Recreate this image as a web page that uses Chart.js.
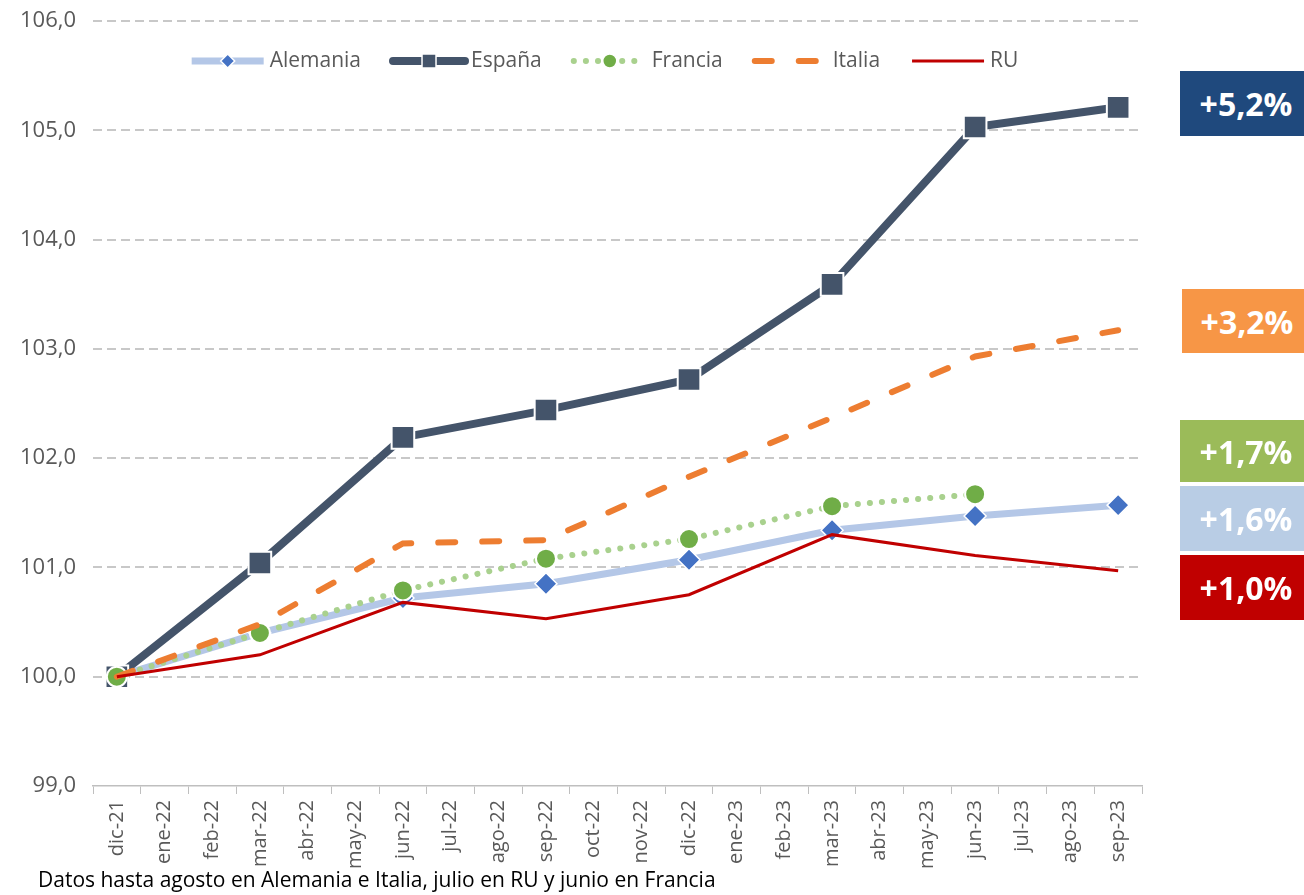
<!DOCTYPE html>
<html>
<head>
<meta charset="utf-8">
<script src="https://cdn.jsdelivr.net/npm/chart.js@4.4.0/dist/chart.umd.min.js"></script>
<style>
  body { margin: 0; background: #fff; font-family: 'Open Sans', sans-serif; }
  #wrap { position: relative; width: 1304px; height: 895px; overflow: hidden; }
  #chart { position: absolute; left: 0; top: 0; }
  .tag { position: absolute; right: 0; color: #fff; font-weight: bold; font-size: 32px;
         display: flex; align-items: center; justify-content: center; padding-left: 8px; box-sizing: border-box; }
  #note { position: absolute; left: 38px; top: 866px; font-size: 21px; line-height: 26px; color: #000; white-space: nowrap; }
</style>
</head>
<body>
<div id="wrap">
  <canvas id="chart" width="1304" height="895"></canvas>
  <div class="tag" id="tag0" style="left:1180px; top:71px; height:65px; background:#1F497D;"></div>
  <div class="tag" id="tag1" style="left:1182px; top:289px; height:64px; background:#F79646;"></div>
  <div class="tag" id="tag2" style="left:1180px; top:420px; height:62px; background:#9BBB59;"></div>
  <div class="tag" id="tag3" style="left:1180px; top:486px; height:65px; background:#B9CDE5;"></div>
  <div class="tag" id="tag4" style="left:1180px; top:555px; height:65px; background:#C00000;"></div>
  <div id="note">Datos hasta agosto en Alemania e Italia, julio en RU y junio en Francia</div>
</div>
<script>
// meses del eje x
const months = ['dic-21', 'ene-22', 'feb-22', 'mar-22', 'abr-22', 'may-22', 'jun-22', 'jul-22',
  'ago-22', 'sep-22', 'oct-22', 'nov-22', 'dic-22', 'ene-23', 'feb-23', 'mar-23', 'abr-23',
  'may-23', 'jun-23', 'jul-23', 'ago-23', 'sep-23'];
// trimestres con dato
const quarters = ['dic-21', 'mar-22', 'jun-22', 'sep-22', 'dic-22', 'mar-23', 'jun-23', 'sep-23'];

const alemania = [100.0, 100.40, 100.72, 100.85, 101.07, 101.34, 101.47, 101.57];
const espana = [100.0, 101.04, 102.19, 102.44, 102.72, 103.59, 105.03, 105.21];
const francia = [100.0, 100.40, 100.79, 101.08, 101.26, 101.56, 101.67];
const italia = [100.0, 100.48, 101.22, 101.25, 101.83, 102.37, 102.93, 103.17];
const ru = [100.0, 100.20, 100.68, 100.53, 100.75, 101.30, 101.11, 100.97];

const yTicks = [99, 100, 101, 102, 103, 104, 105, 106];
const tags = ['+5,2%', '+3,2%', '+1,7%', '+1,6%', '+1,0%'];

tags.forEach((t, i) => {
  document.getElementById('tag' + i).textContent = t;
});

const toPoints = (values) => values.map((v, i) => ({ x: quarters[i], y: v }));

const drawMarker = (ctx, ds, x, y, r) => {
  if (!ds.pointStyle || ds.pointRadius === 0) {
    return;
  }
  ctx.save();
  ctx.setLineDash([]);
  ctx.fillStyle = ds.pointBackgroundColor;
  ctx.strokeStyle = '#fff';
  ctx.lineWidth = 1.5;
  ctx.beginPath();
  if (ds.pointStyle === 'rectRot') {
    ctx.moveTo(x - r, y);
    ctx.lineTo(x, y - r);
    ctx.lineTo(x + r, y);
    ctx.lineTo(x, y + r);
    ctx.closePath();
  } else if (ds.pointStyle === 'rect') {
    ctx.rect(x - r, y - r, 2 * r, 2 * r);
  } else {
    ctx.arc(x, y, r, 0, Math.PI * 2);
  }
  ctx.fill();
  ctx.stroke();
  ctx.restore();
};

const rowLegend = {
  id: 'rowLegend',
  afterDraw(chart) {
    const ctx = chart.ctx;
    const y = 61;
    const lineLen = 72;
    const gap = 6;
    const space = 32;
    const sets = chart.data.datasets;
    ctx.save();
    ctx.font = '21px "Open Sans"';
    const widths = sets.map((ds) => lineLen + gap + ctx.measureText(ds.label).width);
    const total = widths.reduce((a, b) => a + b, 0) + space * (sets.length - 1);
    let x = 605 - total / 2;

    sets.forEach((ds, i) => {
      ctx.save();
      ctx.strokeStyle = ds.borderColor;
      ctx.lineWidth = ds.borderWidth;
      ctx.lineCap = ds.borderCapStyle || 'butt';
      ctx.setLineDash(ds.borderDash || []);
      ctx.beginPath();
      ctx.moveTo(x, y);
      ctx.lineTo(x + lineLen, y);
      ctx.stroke();
      ctx.restore();

      drawMarker(ctx, ds, x + lineLen / 2, y, ds.legendRadius);

      ctx.fillStyle = '#595959';
      ctx.textAlign = 'left';
      ctx.textBaseline = 'middle';
      ctx.fillText(ds.label, x + lineLen + gap, y);
      x += widths[i] + space;
    });
    ctx.restore();
  },
};

const context = document.getElementById('chart');

new Chart(context, {
  type: 'line',
  data: {
    labels: months,
    datasets: [
      {
        label: 'Alemania',
        data: toPoints(alemania),
        borderColor: '#B4C7E7',
        borderWidth: 7,
        pointStyle: 'rectRot',
        pointRadius: 11,
        pointBackgroundColor: '#4472C4',
        pointBorderColor: '#fff',
        pointBorderWidth: 1.5,
        legendRadius: 7,
        order: 5,
      },
      {
        label: 'España',
        data: toPoints(espana),
        borderColor: '#44546A',
        borderWidth: 8,
        borderCapStyle: 'round',
        pointStyle: 'rect',
        pointRadius: 16,
        pointBackgroundColor: '#44546A',
        pointBorderColor: '#fff',
        pointBorderWidth: 2,
        legendRadius: 7,
        order: 4,
      },
      {
        label: 'Francia',
        data: toPoints(francia),
        borderColor: '#A9D18E',
        borderWidth: 6,
        borderCapStyle: 'round',
        borderDash: [0.1, 12],
        pointStyle: 'circle',
        pointRadius: 10,
        pointBackgroundColor: '#70AD47',
        pointBorderColor: '#fff',
        pointBorderWidth: 2,
        legendRadius: 7,
        order: 3,
      },
      {
        label: 'Italia',
        data: toPoints(italia),
        borderColor: '#ED7D31',
        borderWidth: 6,
        borderCapStyle: 'round',
        borderDash: [17, 27],
        pointRadius: 0,
        order: 2,
      },
      {
        label: 'RU',
        data: toPoints(ru),
        borderColor: '#C00000',
        borderWidth: 3,
        pointRadius: 0,
        order: 1,
      },
    ],
  },
  options: {
    responsive: false,
    animation: false,
    devicePixelRatio: 1,
    layout: {
      padding: { left: 0, top: 21, right: 162, bottom: 0 },
    },
    elements: {
      line: { tension: 0 },
    },
    plugins: {
      legend: { display: false },
      tooltip: { enabled: false },
    },
    scales: {
      x: {
        type: 'category',
        offset: true,
        afterFit: (scale) => {
          scale.height = 109;
          scale.paddingTop = 0;
        },
        grid: {
          offset: true,
          drawOnChartArea: false,
          drawTicks: true,
          tickLength: 8,
          color: '#BFBFBF',
        },
        border: { color: '#BFBFBF', width: 1.5 },
        ticks: {
          autoSkip: false,
          minRotation: 90,
          maxRotation: 90,
          padding: 6,
          color: '#595959',
          font: { family: 'Open Sans', size: 20 },
        },
      },
      y: {
        min: 99,
        max: 106,
        afterFit: (scale) => {
          scale.width = 93;
          scale.paddingTop = 0;
          scale.paddingBottom = 0;
        },
        afterBuildTicks: (scale) => {
          scale.ticks = yTicks.map((v) => ({ value: v }));
        },
        grid: {
          color: (c) => (c.tick.value === 99 ? 'rgba(0,0,0,0)' : '#C8C8C8'),
          lineWidth: 2,
          drawTicks: false,
        },
        border: { display: false, dash: [9, 5] },
        ticks: {
          padding: 17,
          color: '#595959',
          font: { family: 'Open Sans', size: 22 },
          callback: (value) => value.toFixed(1).replace('.', ','),
        },
      },
    },
  },
  plugins: [rowLegend],
});
</script>
</body>
</html>
